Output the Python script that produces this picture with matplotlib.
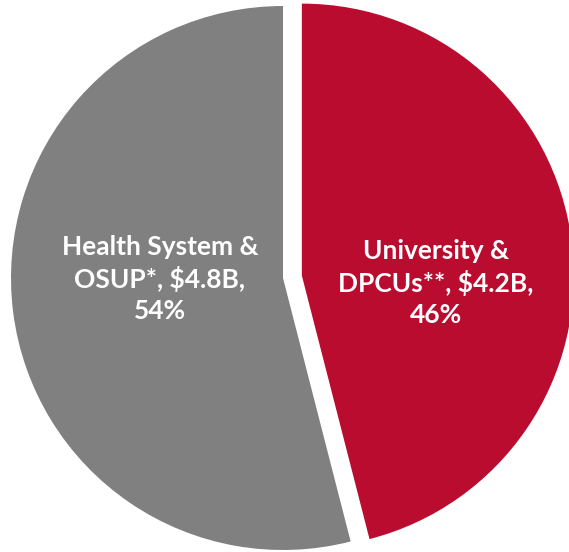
import matplotlib
matplotlib.use("Agg")
import matplotlib.pyplot as plt

categories = ["University &\nDPCUs**, $4.2B,\n46%", "Health System &\nOSUP*, $4.8B,\n54%"]
values = [4.2, 4.8]
shares = [46, 54]
colors = ["#BA0C2F", "#808080"]

W, H = 569, 552
fig = plt.figure(figsize=(W / 100, H / 100), dpi=100)
ax = fig.add_axes([0, 0, 1, 1])

R = 272
# explode offset in pie() is expressed in data units (pixels here)
wedges, _ = ax.pie(shares, colors=colors, startangle=90, counterclock=False,
                   explode=[19, 0], center=(283, H - 278), radius=R,
                   frame=True, wedgeprops=dict(linewidth=0))
ax.set_xlim(0, W)
ax.set_ylim(0, H)
ax.set_aspect("equal")
ax.axis("off")

font = dict(family=["Lato", "DejaVu Sans"], fontweight="bold", fontsize=19,
            color="white", ha="center", va="center", linespacing=1.34)
ax.text(436, H - 283, categories[0], **font)
ax.text(160, H - 279, categories[1], **font)

fig.savefig("out.png", dpi=100)
